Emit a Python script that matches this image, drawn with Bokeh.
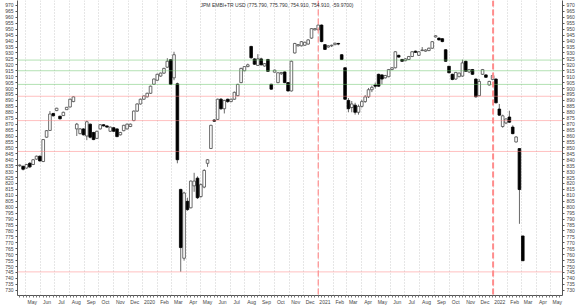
import pandas as pd
from bokeh.plotting import figure
from bokeh.models import ColumnDataSource, FixedTicker, LinearAxis, Span, Label
from bokeh.embed import file_html
from bokeh.resources import INLINE

# ---------------- data (weekly candles) ----------------
dates = pd.date_range("2019-04-19", "2022-03-04", freq="7D")

opens = [835, 834.5, 833, 837, 836, 840.5, 843, 838.5, 859, 864.7, 879, 881.4, 876.7, 877.2, 882.2, 884.5, 889,
         866, 862, 866, 860, 870, 863, 858, 866, 869.5, 868.5, 864, 867, 866, 861, 864.5, 866, 868, 873, 881, 887,
         891, 893, 896, 903.6, 907, 910.5, 913, 918, 924.3, 909, 904, 815, 757, 805, 799.5, 818, 824.5, 809, 817,
         837, 849.5, 873.5, 874, 891, 883, 891, 889, 891, 894, 905, 915, 918.5, 935.5, 925, 919.5, 925, 919, 924.5,
         903.6, 913.8, 905, 912.5, 914, 905, 898, 930, 936, 936, 936.5, 937.5, 942.5, 949.5,
         949.5, 953.5, 937, 935, 936, 937, 938, 928.5, 917.5, 890, 884, 886, 880, 885, 889, 893, 899, 903, 912,
         911.5, 909, 910, 916, 917.5, 928, 924.5, 923.5, 924.5, 927, 931.5, 928, 932, 931.5, 932, 934, 943.5, 942.5,
         942, 932.7, 918.8, 912, 908, 910, 910.5, 923, 914, 916, 908, 894, 912, 911.5, 903, 907.7,
         908, 882.7, 868, 871, 876, 867.5, 855, 849.4, 775.79]
highs = [836, 835, 836.5, 838, 840.5, 843.5, 843.5, 857.5, 865, 881, 879.5, 883.8, 877, 880.5, 884.5, 891.5, 893.5,
         871, 866.5, 866.5, 873, 870.5, 863.5, 864.5, 870, 870, 869, 868, 867.5, 866.5, 863.5, 869.5, 870.5, 870.5,
         881.5, 887.5, 891.5,
         894, 896.5, 902.5, 908.5, 912.5, 913.5, 917.5, 925.6, 924.8, 931, 905, 815.5, 813, 808, 822.5, 829, 826,
         820, 832, 840.5, 869.5, 874, 891.5, 892, 890.5, 891.5, 891.5, 897.5, 904, 917.5, 919, 921, 936, 925.5,
         929, 926, 921.5, 925, 904, 916, 913.5, 914, 914.5, 905.5, 923.5, 938.5, 937.5, 940, 939.5, 941.5, 951, 951,
         954, 954, 937.5, 936.5, 937, 938.7, 938.5, 929, 918, 892, 889.5, 888, 886.5, 890.5, 894.5, 900.5, 902.5,
         905, 912.5, 912, 911.5, 916.5, 918, 931.5, 928.5, 925, 925.5, 927.5, 931.5, 932, 931.5, 935, 933, 934.5,
         940, 945, 943, 942.5, 933, 919, 912.5, 914, 913.5, 924.4, 923.5, 916.5, 916.5, 908.5, 908, 916.5, 912,
         906.5, 911.5,
         908.5, 887, 878, 874.8, 881.3, 869, 859.7, 849.5, 775.79]
lows = [834, 831, 832.5, 833, 835.5, 840, 838.5, 838, 858.5, 864.5, 876.5, 881, 874, 877, 882, 884, 888.5,
        860, 861.5, 860.5, 856.5, 858, 856.5, 857.5, 865.5, 868, 867, 863.5, 863.5, 859, 860.5, 864, 865.5, 867.5,
        872.5, 880.5, 886.5,
        890.5, 892.5, 895.5, 903, 906.5, 910, 912.5, 917.5, 903, 907, 837, 745.6, 755, 797, 799, 813, 807, 808,
        816, 834, 849, 872, 873.5, 882, 879, 888, 888.5, 890.5, 893.5, 904.5, 914.5, 918, 925, 920, 919, 919.5,
        918.5, 914, 899, 913.5, 904.5, 911.5, 904.5, 897.5, 897.5, 929.5, 935.5, 935.5, 936, 937, 942, 949,
        949, 939, 932.5, 934.5, 935, 936.5, 936.5, 924, 890.5, 880, 880, 878, 878, 884, 888, 892, 897, 900, 901.5,
        903.6, 908.5, 909.5, 915.5, 917, 926, 922.5, 923, 924, 926.5, 930, 927.5, 931.5, 931, 931.5, 933.5, 943,
        940.5, 939, 922.5, 913, 907, 907.5, 909.5, 910, 914, 913, 911.5, 892.5, 893.5, 911.5, 909, 902.5, 907,
        887.5, 877, 867, 870, 871, 861.5, 854.5, 786, 754.91]
closes = [835.5, 832, 836, 834, 840, 843, 839, 857, 864.5, 878.5, 877, 883.4, 874.5, 880, 884.2, 891, 893,
          870, 866, 861, 872, 859, 857, 864, 869.5, 868.5, 867.5, 867.5, 864, 859.5, 863, 869, 870, 870, 881, 887,
          891,
          893.8, 896, 902, 908, 912, 913, 917, 923, 903.6, 928.5, 840, 766, 812, 798, 822, 822, 808, 819, 831, 840,
          869, 872.5, 891, 883, 890, 889, 891, 896.8, 903.5, 917, 918.5, 920, 926, 920.5, 925, 920, 921, 914.5,
          899.5, 915.5, 913.3, 913.5, 905, 898, 923, 938, 937, 939.5, 939, 941, 950.5, 950.5,
          953.5, 939.6, 933, 936, 936.5, 938.2, 937.5, 924.5, 891, 883, 887, 880, 885, 889, 893, 899, 901, 902, 902,
          908, 911, 916, 917.5, 931, 926.5, 923, 925, 927, 931, 930.5, 931, 932.5, 932.5, 934, 939.5, 944.5, 941,
          939.6, 923, 913.3, 907.7, 913.6, 913, 921.6, 914.6, 916, 912, 893, 906, 916, 909.5, 906, 911,
          888, 877.6, 877, 874.4, 871.7, 862, 859.2, 814.88, 754.91]

green_levels = [924.0, 915.0, 903.5]
red_levels = [893.5, 873.0, 847.0, 745.5]
year_marks = ["2021-01-01", "2022-01-01"]
y_ticks = list(range(730, 971, 5))
series_name = "JPM EMBI+TR USD"

# ---------------- build ----------------
df = pd.DataFrame({"date": dates[:len(opens)], "open": opens, "high": highs, "low": lows, "close": closes})
df["top"] = df[["open", "close"]].max(axis=1)
df["bottom"] = df[["open", "close"]].min(axis=1)
inc = ColumnDataSource(df[df.close >= df.open])
dec = ColumnDataSource(df[df.close < df.open])
src = ColumnDataSource(df)

DAY = 86400000
x_start = pd.Timestamp("2019-04-14 07:00")
x_end = pd.Timestamp("2022-05-25 21:00")

p = figure(width=580, height=307, x_axis_type="datetime",
           x_range=(x_start, x_end), y_range=(725.6, 974.2),
           output_backend="svg", toolbar_location=None,
           min_border_left=17, min_border_right=18, min_border_top=0, min_border_bottom=8)
p.outline_line_color = None
p.background_fill_color = "white"
p.border_fill_color = "white"

# grid: vertical dotted lines at month starts
month_starts = pd.date_range("2019-05-01", "2022-05-01", freq="MS")
ms_starts = [int(t.value // 10**6) for t in month_starts]
p.ygrid.visible = False
p.xgrid.ticker = FixedTicker(ticks=ms_starts)
p.xgrid.grid_line_color = "#cccccc"
p.xgrid.grid_line_dash = "1 2"
p.xgrid.grid_line_width = 1

# level lines
for lv in green_levels:
    p.add_layout(Span(location=lv, dimension="width", line_color="#66c266", line_dash="1 1", line_width=1))
for lv in red_levels:
    p.add_layout(Span(location=lv, dimension="width", line_color="#ff8080", line_dash="1 1", line_width=1))
for ym, lw in zip(year_marks, [1.2, 2.0]):
    p.add_layout(Span(location=int(pd.Timestamp(ym).value // 10**6), dimension="height",
                      line_color="#ff8c8c", line_dash="6 3", line_width=lw))

# candles
p.segment(x0="date", y0="high", x1="date", y1="low", source=src, line_color="#6a6a6a", line_width=1)
bw = 5.5 * DAY
p.vbar(x="date", width=bw, top="top", bottom="bottom", source=inc,
       fill_color="white", line_color="#4a4a4a", line_width=0.8)
p.vbar(x="date", width=bw, top="top", bottom="bottom", source=dec,
       fill_color="black", line_color="black", line_width=0.8)

# axes styling
font = "Liberation Sans"
def style_y(ax):
    ax.ticker = FixedTicker(ticks=y_ticks)
    ax.major_label_text_font_size = "5px"
    ax.major_label_text_font = font
    ax.major_label_text_color = "#444444"
    ax.major_tick_out = 2
    ax.major_tick_in = 0
    ax.minor_tick_out = 0
    ax.major_label_standoff = 2
    ax.axis_line_color = "#555555"
    ax.major_tick_line_color = "#555555"

style_y(p.yaxis[0])
right = LinearAxis()
style_y(right)
p.add_layout(right, "right")

# x axis: labels centred mid-month
mids = [t + pd.Timedelta(days=14) for t in month_starts]
ms_mids = [int(t.value // 10**6) for t in mids if t < x_end]
labels = {}
for t in mids:
    if t < x_end:
        labels[int(t.value // 10**6)] = str(t.year) if t.month == 1 else t.strftime("%b")
weeks = pd.date_range("2019-04-19", "2022-05-20", freq="7D")
xa = p.xaxis[0]
xa.ticker = FixedTicker(ticks=ms_mids, minor_ticks=[int(t.value // 10**6) for t in weeks])
xa.major_label_overrides = labels
xa.major_label_text_font_size = "5px"
xa.major_label_text_font = font
xa.major_label_text_color = "#444444"
xa.major_tick_out = 0
xa.major_tick_in = 0
xa.minor_tick_out = 2
xa.minor_tick_in = 0
xa.major_label_standoff = 1
xa.axis_line_color = "#555555"
xa.minor_tick_line_color = "#777777"

# title inside the plot
o, h, l, c = opens[-1], highs[-1], lows[-1], closes[-1]
chg = c - closes[-2]
title = f"{series_name} ({o:.3f}, {h:.3f}, {l:.3f}, {c:.3f}, {chg:.4f})"
p.add_layout(Label(x=259.5, y=970.3, x_units="screen", y_units="data", text=title,
                   text_font_size="5px", text_font=font, text_color="#333333",
                   text_align="center", text_baseline="middle"))
# clipped first month label at far left
p.add_layout(Label(x=-18.5, y=-5, x_units="screen", y_units="screen", text="Apr",
                   text_font_size="5px", text_font=font, text_color="#444444",
                   text_align="center", text_baseline="middle"))

open("out.html", "w").write(file_html(p, INLINE))
